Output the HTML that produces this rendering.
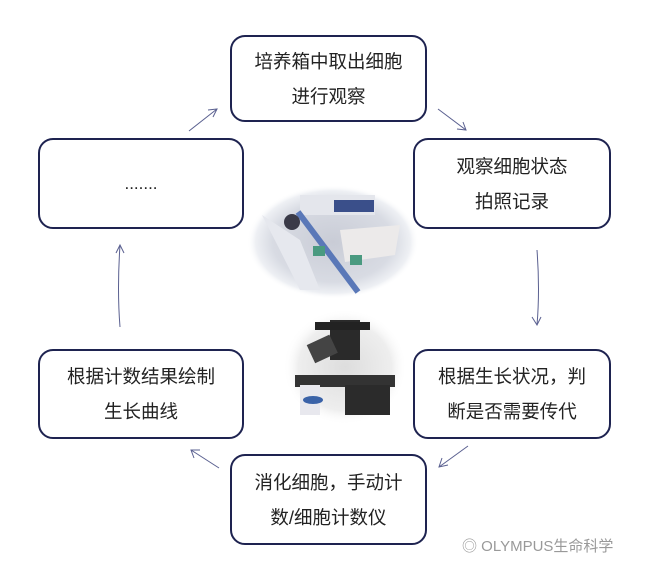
<!DOCTYPE html>
<html><head><meta charset="utf-8"><style>
html,body{margin:0;padding:0;background:#fff;}
body{width:650px;height:571px;position:relative;overflow:hidden;font-family:"Liberation Sans","Noto Sans CJK SC",sans-serif;}
.b{position:absolute;box-sizing:border-box;border:2.5px solid #1e2350;border-radius:15px;background:#fff;display:flex;align-items:center;justify-content:center;text-align:center;font-size:18.5px;line-height:35px;color:#222;}
</style></head><body>
<svg width="650" height="571" style="position:absolute;left:0;top:0">
<defs>
<radialGradient id="g1" cx="50%" cy="50%" r="50%">
<stop offset="0%" stop-color="#c9ccd6"/><stop offset="70%" stop-color="#d8dbe3"/><stop offset="90%" stop-color="#eef0f4"/><stop offset="100%" stop-color="#fff" stop-opacity="0"/></radialGradient>
<radialGradient id="g2" cx="50%" cy="50%" r="50%">
<stop offset="0%" stop-color="#ddd"/><stop offset="75%" stop-color="#eee"/><stop offset="100%" stop-color="#fff" stop-opacity="0"/></radialGradient>
</defs>
<ellipse cx="333" cy="242" rx="86" ry="57" fill="url(#g1)"/>
<rect x="300" y="195" width="75" height="20" fill="#e4e6ec"/>
<rect x="334" y="200" width="40" height="12" fill="#3a4f8a"/>
<path d="M262 215 Q280 250 300 290 L320 290 L300 240 Z" fill="#e6e8ee"/>
<path d="M340 230 L400 225 L395 255 L345 262 Z" fill="#eceaea"/>
<line x1="298" y1="212" x2="358" y2="292" stroke="#5a78b8" stroke-width="6"/>
<circle cx="292" cy="222" r="8" fill="#3a3a48"/>
<rect x="313" y="246" width="12" height="10" fill="#4a9a80"/>
<rect x="350" y="255" width="12" height="10" fill="#4a9a80"/>
<ellipse cx="345" cy="367" rx="62" ry="58" fill="url(#g2)"/>
<rect x="330" y="320" width="30" height="40" fill="#2a2a2a"/>
<rect x="315" y="322" width="55" height="8" fill="#222"/>
<rect x="295" y="375" width="100" height="12" fill="#333"/>
<rect x="310" y="340" width="25" height="20" fill="#444" transform="rotate(-25 320 350)"/>
<rect x="300" y="385" width="20" height="30" fill="#e8e8ee"/>
<ellipse cx="313" cy="400" rx="10" ry="4" fill="#3a62a8"/>
<rect x="345" y="385" width="45" height="30" fill="#2b2b2b"/>
<g fill="none" stroke="#5a6090" stroke-width="1">
<path d="M189 131 L217 109"/><path d="M208 110 L217 109 L213 117"/>
<path d="M438 109 L466 130"/><path d="M457 129 L466 130 L463 122"/>
<path d="M537 250 Q540 290 537 325"/><path d="M532 317 L537 325 L541 317"/>
<path d="M468 446 L439 467"/><path d="M442 458 L439 467 L448 465"/>
<path d="M219 468 L191 450"/><path d="M194 458 L191 450 L200 450"/>
<path d="M120 327 Q117 290 120 245"/><path d="M116 253 L120 245 L124 253"/>
</g>
</svg>
<div class="b" style="left:230px;top:35px;width:197px;height:87px">培养箱中取出细胞<br>进行观察</div>
<div class="b" style="left:38px;top:138px;width:206px;height:91px"><span style="font-size:17px">.......</span></div>
<div class="b" style="left:413px;top:138px;width:198px;height:91px">观察细胞状态<br>拍照记录</div>
<div class="b" style="left:38px;top:349px;width:206px;height:90px">根据计数结果绘制<br>生长曲线</div>
<div class="b" style="left:413px;top:349px;width:198px;height:90px">根据生长状况，判<br>断是否需要传代</div>
<div class="b" style="left:230px;top:454px;width:197px;height:91px">消化细胞，手动计<br>数/细胞计数仪</div>
<div style="position:absolute;left:462px;top:535px;font-size:15px;color:#999;">◎ OLYMPUS生命科学</div>
</body></html>
